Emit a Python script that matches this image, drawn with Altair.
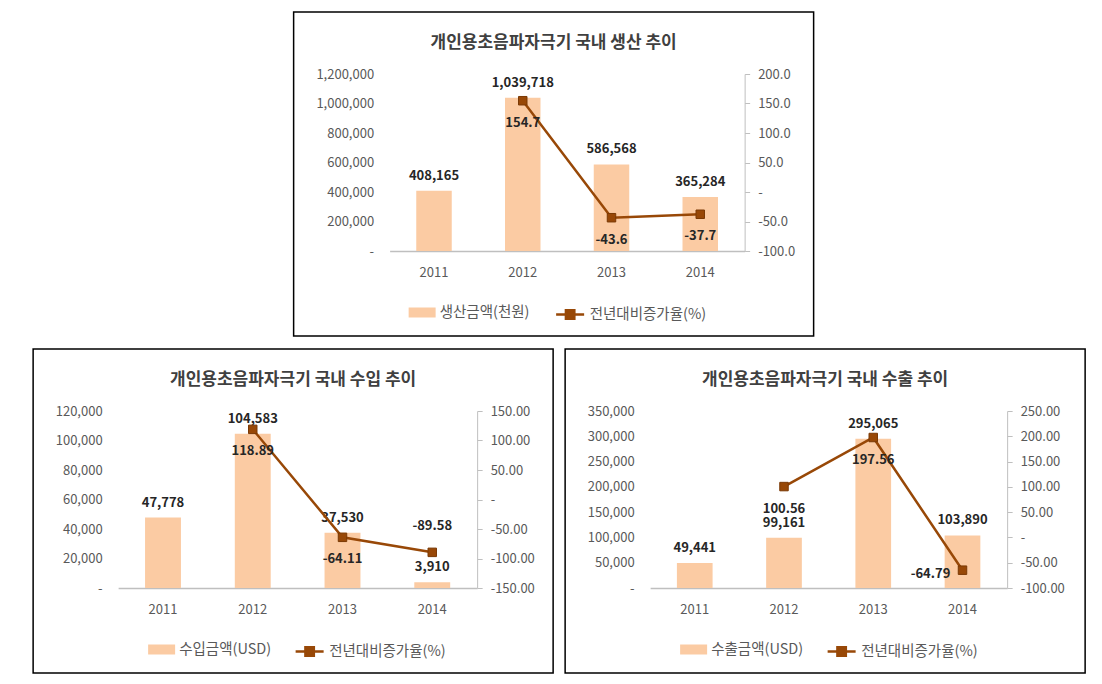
import altair as alt
import pandas as pd

# ---------------- data ----------------
YEARS = ["2011", "2012", "2013", "2014"]
LINE_NAME = "전년대비증가율(%)"

PROD_TITLE = "개인용초음파자극기 국내 생산 추이"
PROD_BAR_NAME = "생산금액(천원)"
PROD_VALUES = [408165, 1039718, 586568, 365284]
PROD_RATES = [None, 154.7, -43.6, -37.7]
PROD_LEFT_TICKS = [0, 200000, 400000, 600000, 800000, 1000000, 1200000]
PROD_RIGHT_TICKS = [-100, -50, 0, 50, 100, 150, 200]

IMP_TITLE = "개인용초음파자극기 국내 수입 추이"
IMP_BAR_NAME = "수입금액(USD)"
IMP_VALUES = [47778, 104583, 37530, 3910]
IMP_RATES = [None, 118.89, -64.11, -89.58]
IMP_LEFT_TICKS = [0, 20000, 40000, 60000, 80000, 100000, 120000]
IMP_RIGHT_TICKS = [-150, -100, -50, 0, 50, 100, 150]

EXP_TITLE = "개인용초음파자극기 국내 수출 추이"
EXP_BAR_NAME = "수출금액(USD)"
EXP_VALUES = [49441, 99161, 295065, 103890]
EXP_RATES = [None, 100.56, 197.56, -64.79]
EXP_LEFT_TICKS = [0, 50000, 100000, 150000, 200000, 250000, 300000, 350000]
EXP_RIGHT_TICKS = [-100, -50, 0, 50, 100, 150, 200, 250]

# label placement of the rate labels (style)
PROD_RATE_POS = ["", "below", "below", "below"]
IMP_RATE_POS = ["", "below", "below", "above"]
EXP_RATE_POS = ["", "below", "below", "left"]

# ---------------- style ----------------
FONT = "Noto Sans CJK KR"
PEACH = "#FBCBA3"
BROWN = "#984807"
BROWN_DARK = "#7A3905"
AXIS_GRAY = "#BFBFBF"
LABEL_GRAY = "#595959"
TEXT_DARK = "#262626"
TITLE_COLOR = "#404040"

PLOT_H = 177
PANEL_W = 520
PANEL_H = 324
PLOT_TOP = 62

BAR_PATH = "M-1,-0.37H1V0.37H-1Z"
LINE_PATH = "M-1,0H1M-0.3,-0.3H0.3V0.3H-0.3Z"


def panel(title, bar_name, values, rates, rate_pos, left_ticks, right_ticks,
          decimals, plot_w, left_off):
    right_off = PANEL_W - left_off - plot_w
    rate_labels = ["" if r is None else f"{r:.{decimals}f}" for r in rates]
    df = pd.DataFrame({
        "year": YEARS,
        "value": values,
        "rate": rates,
        "pos": rate_pos,
        "value_label": [f"{v:,}" for v in values],
        "rate_label": rate_labels,
        "bar_series": [bar_name] * len(YEARS),
        "line_series": [LINE_NAME] * len(YEARS),
    })
    base = alt.Chart(df)

    x = alt.X(
        "year:N",
        title=None,
        scale=alt.Scale(paddingInner=0.6, paddingOuter=0.3),
        axis=alt.Axis(labelAngle=0, domainColor=AXIS_GRAY, domainWidth=1.5,
                      ticks=False, tickSize=0, labelPadding=15,
                      labelFont=FONT, labelFontSize=13, labelColor=LABEL_GRAY,
                      grid=False),
    )

    left_axis = alt.Axis(values=left_ticks, domain=False, ticks=False, grid=False,
                         labelOverlap=False, labelBound=False, tickCount=len(left_ticks),
                         labelPadding=16, labelFont=FONT, labelFontSize=13,
                         labelColor=LABEL_GRAY,
                         labelExpr="datum.value == 0 ? '-' : format(datum.value, ',')")
    left_scale = alt.Scale(domain=[left_ticks[0], left_ticks[-1]], nice=False, zero=True)
    y_left = alt.Y("value:Q", title=None, scale=left_scale, axis=left_axis)

    fmt = f".{decimals}f"
    right_axis = alt.Axis(orient="right", values=right_ticks, grid=False,
                          labelOverlap=False, labelBound=False, tickCount=len(right_ticks),
                          domainColor=AXIS_GRAY, tickColor=AXIS_GRAY, tickSize=5,
                          labelPadding=8, labelFont=FONT, labelFontSize=13,
                          labelColor=LABEL_GRAY,
                          labelExpr=("datum.value == 0 ? '-' : ((datum.value < 0 ? '-' : '') + "
                                     f"format(abs(datum.value), '{fmt}'))"))
    right_scale = alt.Scale(domain=[right_ticks[0], right_ticks[-1]], nice=False, zero=False)
    y_right = alt.Y("rate:Q", title=None, scale=right_scale, axis=right_axis)

    legend_x = 115 - left_off
    legend_y = 225
    bar_legend = alt.Legend(
        title=None, orient="none", legendX=legend_x, legendY=legend_y,
        symbolType=BAR_PATH, symbolSize=729, symbolStrokeWidth=0,
        labelFont=FONT, labelFontSize=14.5, labelColor=LABEL_GRAY, labelOffset=4,
    )
    line_legend = alt.Legend(
        title=None, orient="none", legendX=legend_x + 146, legendY=legend_y,
        symbolType=LINE_PATH, symbolSize=784, symbolStrokeWidth=2.5,
        symbolFillColor=BROWN,
        labelFont=FONT, labelFontSize=14.5, labelColor=LABEL_GRAY, labelOffset=4,
    )

    bars = base.mark_bar().encode(
        x=x, y=y_left,
        fill=alt.Fill("bar_series:N", scale=alt.Scale(domain=[bar_name], range=[PEACH]),
                      legend=bar_legend),
    )
    bar_text = base.mark_text(font=FONT, fontSize=13, fontWeight="bold",
                              color=TEXT_DARK, dy=-15).encode(
        x=x, y=y_left, text="value_label:N")
    left_group = alt.layer(bars, bar_text)

    line = base.mark_line(strokeWidth=2.5).encode(
        x=x, y=y_right,
        stroke=alt.Stroke("line_series:N", scale=alt.Scale(domain=[LINE_NAME], range=[BROWN]),
                          legend=line_legend),
    )
    pts = base.mark_point(shape="square", filled=True, size=72, fill=BROWN,
                          stroke=BROWN_DARK, strokeWidth=1, opacity=1).encode(
        x=x, y=y_right)
    layers = [line, pts]
    offsets = {"below": (0, 22), "above": (0, -26), "left": (-32, 4)}
    for pos, (ddx, ddy) in offsets.items():
        if pos in rate_pos:
            layers.append(
                base.transform_filter(f"datum.pos == '{pos}'").mark_text(
                    font=FONT, fontSize=13, fontWeight="bold", color=TEXT_DARK,
                    dx=ddx, dy=ddy).encode(x=x, y=y_right, text="rate_label:N")
            )
    right_group = alt.layer(*layers)

    frame_data = alt.Data(values=[{"k": 1}])
    border = alt.Chart(frame_data).mark_rect(
        fill="transparent", stroke="#000000", strokeWidth=1.5).encode(
        x=alt.value(-left_off), x2=alt.value(plot_w + right_off),
        y=alt.value(-PLOT_TOP), y2=alt.value(PLOT_H + (PANEL_H - PLOT_TOP - PLOT_H)),
    )
    title_text = alt.Chart(frame_data).mark_text(
        font=FONT, fontSize=17, fontWeight="bold", color=TITLE_COLOR,
        align="center", baseline="middle").encode(
        x=alt.value(PANEL_W / 2 - left_off), y=alt.value(31 - PLOT_TOP),
        text=alt.value(title),
    )

    chart = alt.layer(border, title_text, left_group, right_group).resolve_scale(
        y="independent"
    ).properties(width=plot_w, height=PLOT_H)
    return chart


top = panel(PROD_TITLE, PROD_BAR_NAME, PROD_VALUES, PROD_RATES, PROD_RATE_POS,
            PROD_LEFT_TICKS, PROD_RIGHT_TICKS, 1, 355, 96)
imp = panel(IMP_TITLE, IMP_BAR_NAME, IMP_VALUES, IMP_RATES, IMP_RATE_POS,
            IMP_LEFT_TICKS, IMP_RIGHT_TICKS, 2, 359, 85)
exp = panel(EXP_TITLE, EXP_BAR_NAME, EXP_VALUES, EXP_RATES, EXP_RATE_POS,
            EXP_LEFT_TICKS, EXP_RIGHT_TICKS, 2, 357, 85)

bottom = alt.hconcat(imp, exp, spacing=10).resolve_scale(
    fill="independent", stroke="independent")

chart = alt.vconcat(top, bottom, spacing=11, center=True).resolve_scale(
    fill="independent", stroke="independent"
).properties(
    padding={"left": 24, "top": 3, "right": 4, "bottom": 4}
).configure(font=FONT).configure_view(strokeWidth=0)

chart.save("out.html", embed_options={"renderer": "svg", "actions": False})
